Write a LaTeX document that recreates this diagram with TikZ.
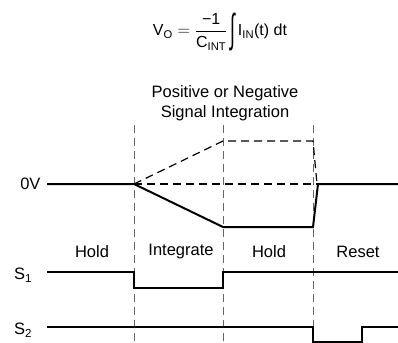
\documentclass[tikz,border=0pt]{standalone}
\usepackage{amsmath}
\usepackage{graphicx}
\usepackage{fontspec}
\setmainfont{Liberation Sans}
\newcommand{\bigintegral}{\text{\raisebox{-0.42em}{\scalebox{1.1}[2.5]{∫}}}}
\tikzset{
  wave/.style={line width=2pt},
  guide/.style={black!60, line width=1pt, dash pattern=on 8pt off 5pt},
  trace/.style={line width=1.2pt, dash pattern=on 8pt off 5pt},
  lbl/.style={font=\fontsize{16.5}{20}\selectfont}
}
\begin{document}
\begin{tikzpicture}[x=1pt, y=-1pt]
        \clip (0, 0) rectangle (398, 342);
        % phase boundaries
        \foreach \t in {134, 223, 313}
            \draw[guide] (\t, 125) -- (\t, 342);
        % output, both polarities
        \draw[trace] (134, 184) -- (223, 141) -- (313, 141) -- (317, 184);
        \draw[trace] (134, 184) -- (318, 184);
        \draw[wave] (47, 184) -- (134, 184) -- (223, 227) -- (313, 227) -- (318, 184) -- (398, 184);
        % switches
        \draw[wave] (47, 272) -- (134, 272) -- (134, 288) -- (223, 288) -- (223, 272) -- (398, 272);
        \draw[wave] (47, 327) -- (313, 327) -- (313, 342) -- (362, 342) -- (362, 327) -- (398, 327);
        \node[lbl, anchor=east] at (44, 184) {0V};
        \node[lbl] at (23, 275) {S\textsubscript{1}};
        \node[lbl] at (23, 330) {S\textsubscript{2}};
        \node[lbl] at (92, 252) {Hold};
        \node[lbl] at (181, 252) {Integrate};
        \node[lbl] at (269, 252) {Hold};
        \node[lbl] at (358, 252) {Reset};
        \node[lbl, align=center] at (225, 103) {Positive or Negative\\Signal Integration};
        \node[font=\fontsize{16}{19}\selectfont, inner sep=0pt] (formula) at (220, 32)
            {$\displaystyle \text{V}_{\text{O}} = \frac{\text{−1}}{\text{C}_{\text{INT}}}\,\bigintegral\,\text{I}_{\text{IN}}\text{(t) dt}$};
\end{tikzpicture}
\end{document}
